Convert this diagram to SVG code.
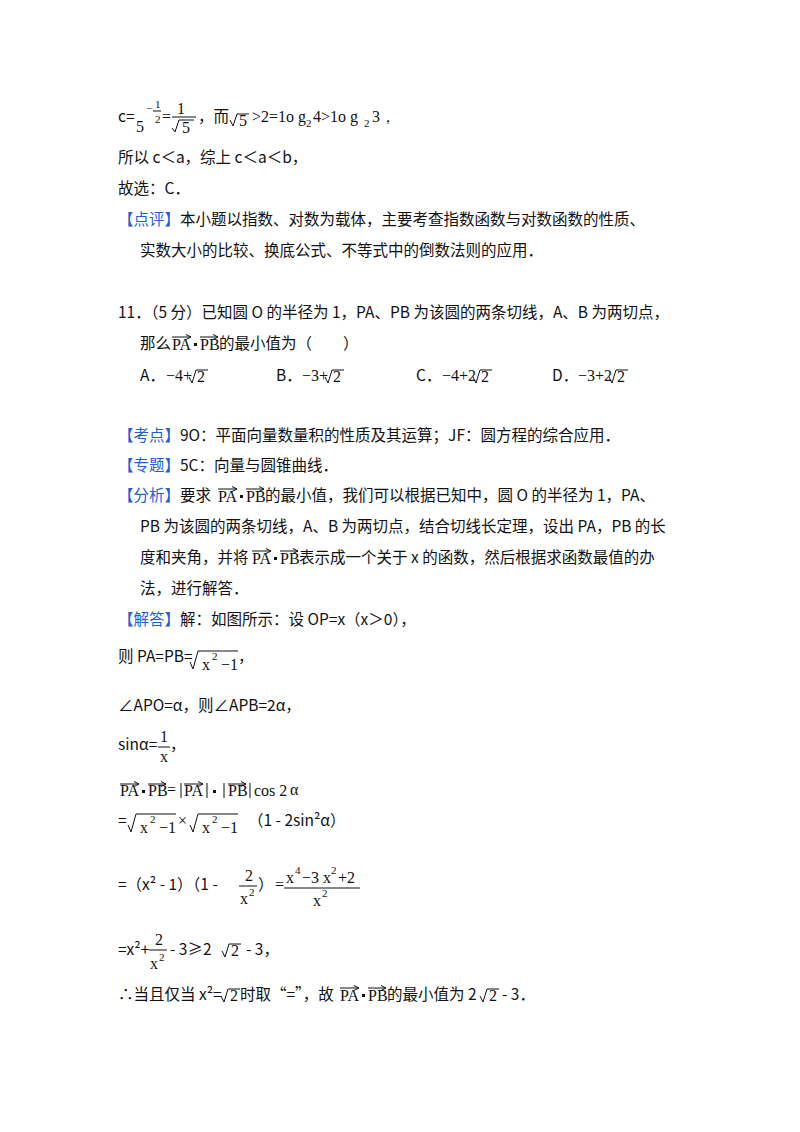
<svg xmlns="http://www.w3.org/2000/svg" width="800" height="1132" viewBox="0 0 800 1132">
<defs>
<style>
text{font-family:"Noto Sans CJK SC","Noto Sans",sans-serif;font-size:15.5px;fill:#111}
.b{fill:#1f5fd0}
.m{font-family:"Liberation Serif",serif;font-size:16px}
.s{font-family:"Liberation Serif",serif;font-size:11px}
.ln{stroke:#111;stroke-width:1;fill:none}
.d{fill:#111}
</style>
<marker id="ah" markerWidth="6" markerHeight="6" refX="5" refY="3" orient="auto"><path d="M0,0.5L5,3L0,5.5" fill="none" stroke="#111" stroke-width="1"/></marker>
</defs>
<rect width="800" height="1132" fill="#fff"/>
<g id="p1">
<text x="118" y="122">c=</text>
<text class="m" x="136" y="132">5</text><text class="s" x="146" y="112">−</text><text class="s" x="155" y="108">1</text><path class="ln" d="M153,111H161"/><text class="s" x="155" y="123">2</text>
<text class="m" x="162" y="122">=</text><text class="m" x="177" y="114">1</text><path class="ln" d="M172,117H196"/><path class="ln" d="M172,128l3,4l4,-12h15"/><text class="m" x="182" y="133">5</text>
<text x="198" y="122">，而</text><path class="ln" d="M230,120l3,6l4,-12h12"/><text class="m" x="239" y="126">5</text>
<text class="m" x="252" y="122">&gt;2=1o g</text><text class="s" x="306" y="127">2</text><text class="m" x="313" y="122">4&gt;1o g</text><text class="s" x="364" y="127">2</text><text class="m" x="372" y="122">3，</text>
<text x="118" y="163">所以 c＜a，综上 c＜a＜b，</text>
<text x="118" y="194">故选：C．</text>
<text x="118" y="225"><tspan class="b">【点评】</tspan>本小题以指数、对数为载体，主要考查指数函数与对数函数的性质、</text>
<text x="140" y="256">实数大小的比较、换底公式、不等式中的倒数法则的应用．</text>
</g>
<g id="p2">
<text x="118" y="318">11．（5 分）已知圆 O 的半径为 1，PA、PB 为该圆的两条切线，A、B 为两切点，</text>
<text x="140" y="349">那么</text><text class="m" x="172" y="350">PA</text><path class="ln" d="M172,337H191" marker-end="url(#ah)"/><rect class="d" x="194" y="343" width="3" height="3"/><text class="m" x="200" y="350">PB</text><path class="ln" d="M200,337H218" marker-end="url(#ah)"/><text x="219" y="349">的最小值为（　　）</text>
<text x="140" y="381">A．</text><text class="m" x="166" y="381">−4+</text><path class="ln" d="M189,377l3,6l4,-13h12"/><text class="m" x="197" y="382">2</text>
<text x="276" y="381">B．</text><text class="m" x="302" y="381">−3+</text><path class="ln" d="M325,377l3,6l4,-13h12"/><text class="m" x="333" y="382">2</text>
<text x="416" y="381">C．</text><text class="m" x="442" y="381">−4+2</text><path class="ln" d="M473,377l3,6l4,-13h12"/><text class="m" x="481" y="382">2</text>
<text x="552" y="381">D．</text><text class="m" x="578" y="381">−3+2</text><path class="ln" d="M609,377l3,6l4,-13h12"/><text class="m" x="617" y="382">2</text>
</g>
<g id="p3">
<text x="118" y="441"><tspan class="b">【考点】</tspan>9O：平面向量数量积的性质及其运算；JF：圆方程的综合应用．</text>
<text x="118" y="471"><tspan class="b">【专题】</tspan>5C：向量与圆锥曲线．</text>
<text x="118" y="501"><tspan class="b">【分析】</tspan>要求</text><text class="m" x="218" y="502">PA</text><path class="ln" d="M218,489H237" marker-end="url(#ah)"/><rect class="d" x="240" y="495" width="3" height="3"/><text class="m" x="246" y="502">PB</text><path class="ln" d="M246,489H264" marker-end="url(#ah)"/><text x="265" y="501">的最小值，我们可以根据已知中，圆 O 的半径为 1，PA、</text>
<text x="140" y="532">PB 为该圆的两条切线，A、B 为两切点，结合切线长定理，设出 PA，PB 的长</text>
<text x="140" y="563">度和夹角，并将</text><text class="m" x="252" y="564">PA</text><path class="ln" d="M252,551H271" marker-end="url(#ah)"/><rect class="d" x="274" y="557" width="3" height="3"/><text class="m" x="280" y="564">PB</text><path class="ln" d="M280,551H298" marker-end="url(#ah)"/><text x="299" y="563">表示成一个关于 x 的函数，然后根据求函数最值的办</text>
<text x="140" y="594">法，进行解答．</text>
<text x="118" y="625"><tspan class="b">【解答】</tspan>解：如图所示：设 OP=x（x＞0），</text>
</g>
<g id="p4">
<text x="118" y="662">则 PA=PB=</text><path class="ln" d="M190,662l3,7l5,-18h40"/><text class="m" x="202" y="670">x</text><text class="s" x="212" y="660">2</text><text class="m" x="221" y="670">−1</text><text x="238" y="662">，</text>
<text x="118" y="711">∠APO=α，则∠APB=2α，</text>
<text x="118" y="750">sinα=</text><text class="m" x="160" y="742">1</text><path class="ln" d="M158,747H170"/><text class="m" x="160" y="762">x</text><text x="170" y="750">，</text>
<text class="m" x="120" y="796">PA</text><path class="ln" d="M120,784H139" marker-end="url(#ah)"/><rect class="d" x="142" y="790" width="3" height="3"/><text class="m" x="148" y="796">PB</text><path class="ln" d="M148,784H166" marker-end="url(#ah)"/><text class="m" x="167" y="795">=</text>
<path class="ln" d="M181,783V798"/><text class="m" x="184" y="796">PA</text><path class="ln" d="M184,784H203" marker-end="url(#ah)"/><path class="ln" d="M207,783V798"/><rect class="d" x="213" y="790" width="3" height="3"/><path class="ln" d="M224,783V798"/><text class="m" x="228" y="796">PB</text><path class="ln" d="M228,784H246" marker-end="url(#ah)"/><path class="ln" d="M250,783V798"/><text class="m" x="254" y="796">cos 2</text><text class="m" x="290" y="795" font-size="18">α</text>
<text x="118" y="826">=</text><path class="ln" d="M128,825l3,7l5,-18h40"/><text class="m" x="140" y="833">x</text><text class="s" x="150" y="823">2</text><text class="m" x="159" y="833">−1</text>
<text class="m" x="178" y="826">×</text><path class="ln" d="M190,825l3,7l5,-18h40"/><text class="m" x="202" y="833">x</text><text class="s" x="212" y="823">2</text><text class="m" x="221" y="833">−1</text>
<text x="248" y="826">（1 - 2sin²α）</text>
<text x="118" y="890">=（x² - 1）（1 - </text><text class="m" x="245" y="881">2</text><path class="ln" d="M239,886H257"/><text class="m" x="240" y="904">x</text><text class="s" x="249" y="896">2</text><text x="258" y="890">）</text>
<text class="m" x="275" y="890">=</text><text class="m" x="286" y="883">x</text><text class="s" x="295" y="874">4</text><text class="m" x="302" y="883">−3 x</text><text class="s" x="331" y="874">2</text><text class="m" x="338" y="883">+2</text><path class="ln" d="M284,888H360"/><text class="m" x="313" y="906">x</text><text class="s" x="322" y="897">2</text>
<text x="118" y="955">=x²+</text><text class="m" x="155" y="945">2</text><path class="ln" d="M149,950H167"/><text class="m" x="150" y="969">x</text><text class="s" x="159" y="961">2</text><text x="170" y="955">- 3≥2</text><path class="ln" d="M222,951l3,6l4,-13h12"/><text class="m" x="231" y="956">2</text><text x="246" y="955">- 3，</text>
<text x="118" y="1000">∴当且仅当 x²=</text><path class="ln" d="M221,996l3,6l4,-13h12"/><text class="m" x="230" y="1001">2</text><text x="240" y="1000">时取“=”，故</text><text class="m" x="340" y="1001">PA</text><path class="ln" d="M340,988H359" marker-end="url(#ah)"/><rect class="d" x="362" y="994" width="3" height="3"/><text class="m" x="368" y="1001">PB</text><path class="ln" d="M368,988H386" marker-end="url(#ah)"/><text x="387" y="1000">的最小值为 2</text><path class="ln" d="M480,996l3,6l4,-13h12"/><text class="m" x="489" y="1001">2</text><text x="502" y="1000">- 3．</text>
</g>
</svg>
